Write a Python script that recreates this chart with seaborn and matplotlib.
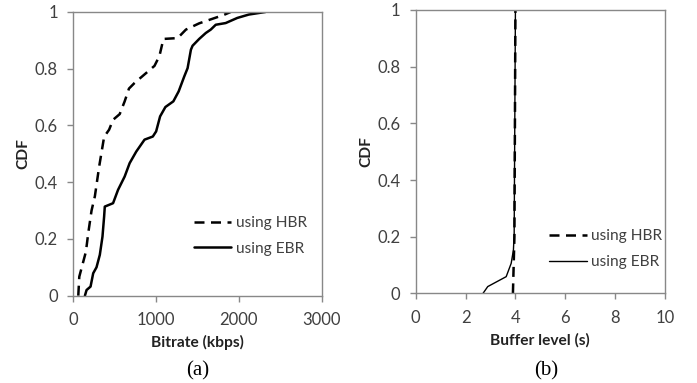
import matplotlib
matplotlib.use("Agg")
import matplotlib.pyplot as plt
import seaborn as sns
import pandas as pd

# ---- data ----
hbr_bitrate = [60, 72, 152, 180, 220, 260, 312, 372, 432, 480, 560, 620, 672, 740, 860, 980,
               1040, 1088, 1260, 1360, 1520, 1680, 1820, 1900]
hbr_bitrate_cdf = [0.0, 0.067, 0.155, 0.22, 0.30, 0.35, 0.455, 0.56, 0.585, 0.62, 0.64, 0.685,
                   0.73, 0.75, 0.78, 0.81, 0.845, 0.905, 0.908, 0.938, 0.96, 0.976, 0.99, 1.0]
ebr_bitrate = [140, 160, 208, 240, 280, 320, 352, 372, 380, 480, 540, 620, 680, 760, 860, 960,
               1000, 1048, 1112, 1208, 1272, 1340, 1380, 1420, 1440, 1520, 1600, 1660, 1720,
               1840, 1980, 2120, 2320]
ebr_bitrate_cdf = [0.0, 0.02, 0.032, 0.079, 0.10, 0.144, 0.208, 0.279, 0.314, 0.326, 0.373,
                   0.42, 0.467, 0.508, 0.55, 0.561, 0.579, 0.632, 0.665, 0.685, 0.72, 0.773,
                   0.802, 0.867, 0.881, 0.905, 0.926, 0.938, 0.955, 0.961, 0.979, 0.991, 1.0]

hbr_buffer = [3.9, 3.93, 3.96, 4.0]
hbr_buffer_cdf = [0.0, 0.1, 0.2, 1.0]
ebr_buffer = [2.70, 2.89, 3.63, 3.83, 3.92, 3.95, 4.0]
ebr_buffer_cdf = [0.0, 0.024, 0.059, 0.106, 0.153, 0.21, 1.0]

bitrate_xticks = [0, 1000, 2000, 3000]
buffer_xticks = [0, 2, 4, 6, 8, 10]
cdf_ticks = [0, 0.2, 0.4, 0.6, 0.8, 1]
cdf_ticklabels = ["0", "0.2", "0.4", "0.6", "0.8", "1"]

sns.set_theme(style="white")
plt.rcParams['font.family'] = ['Lato', 'DejaVu Sans']

fig = plt.figure(figsize=(6.97, 3.83), dpi=100)
ax1 = fig.add_axes([0.1052, 0.228, 0.3564, 0.7407])
ax2 = fig.add_axes([0.5964, 0.234, 0.3577, 0.740])

GRAY = "#888888"
TXT = "#404040"


def style(ax, xticks, xlabel):
    for s in ax.spines.values():
        s.set_visible(True)
        s.set_color(GRAY)
        s.set_linewidth(1.0)
    ax.set_xticks(xticks)
    ax.set_xticklabels([str(t) for t in xticks])
    ax.set_yticks(cdf_ticks)
    ax.set_yticklabels(cdf_ticklabels)
    ax.tick_params(axis="both", direction="out", length=4, width=1, color=GRAY,
                   labelsize=12, labelcolor=TXT, bottom=True, left=True)
    ax.tick_params(axis="x", pad=8)
    ax.tick_params(axis="y", pad=7)
    ax.set_ylim(0, 1)
    ax.set_ylabel("CDF", fontsize=11.2, fontweight="bold", color="#222222", labelpad=3)
    ax.set_xlabel(xlabel, fontsize=11.2, fontweight="bold", color="#222222", labelpad=5)


df1h = pd.DataFrame({"x": hbr_bitrate, "y": hbr_bitrate_cdf})
df1e = pd.DataFrame({"x": ebr_bitrate, "y": ebr_bitrate_cdf})
sns.lineplot(data=df1h, x="x", y="y", ax=ax1, sort=False, estimator=None, color="black",
             lw=1.8, label="using HBR").lines[-1].set_dashes((4, 2.6))
sns.lineplot(data=df1e, x="x", y="y", ax=ax1, sort=False, estimator=None, color="black",
             lw=1.8, label="using EBR")
ax1.set_xlim(0, 3000)
style(ax1, bitrate_xticks, "Bitrate (kbps)")
ax1.legend(loc="center left", bbox_to_anchor=(0.43, 0.21), frameon=False, fontsize=11.2,
           handlelength=2.4, handletextpad=0.3, labelspacing=0.75, labelcolor=TXT)

df2h = pd.DataFrame({"x": hbr_buffer, "y": hbr_buffer_cdf})
df2e = pd.DataFrame({"x": ebr_buffer, "y": ebr_buffer_cdf})
sns.lineplot(data=df2h, x="x", y="y", ax=ax2, sort=False, estimator=None, color="black",
             lw=1.8, label="using HBR").lines[-1].set_dashes((4, 2.6))
sns.lineplot(data=df2e, x="x", y="y", ax=ax2, sort=False, estimator=None, color="black",
             lw=1.0, label="using EBR")
ax2.set_xlim(0, 10)
style(ax2, buffer_xticks, "Buffer level (s)")
ax2.legend(loc="center left", bbox_to_anchor=(0.48, 0.156), frameon=False, fontsize=11.2,
           handlelength=2.4, handletextpad=0.3, labelspacing=0.75, labelcolor=TXT)

fig.text(0.283, 0.032, "(a)", ha="center", va="center", fontsize=15,
         family=["Liberation Serif", "DejaVu Serif"], color="black")
fig.text(0.784, 0.032, "(b)", ha="center", va="center", fontsize=15,
         family=["Liberation Serif", "DejaVu Serif"], color="black")

fig.savefig("out.png", dpi=100)
